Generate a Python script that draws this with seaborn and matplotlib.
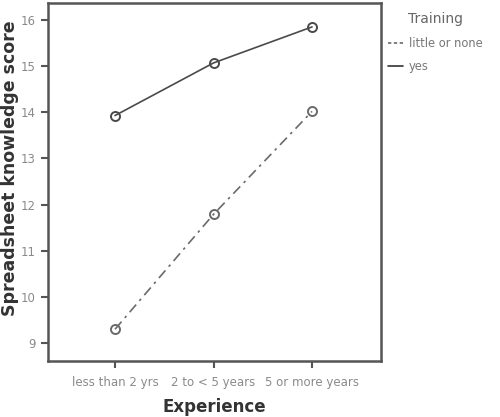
import matplotlib
matplotlib.use("Agg")
import matplotlib.pyplot as plt
import seaborn as sns
import pandas as pd
from matplotlib.lines import Line2D

experience = ["less than 2 yrs", "2 to < 5 years", "5 or more years"]
little_or_none = [9.30, 11.79, 14.02]
yes = [13.93, 15.07, 15.85]
training_levels = ["little or none", "yes"]
y_ticks = [9, 10, 11, 12, 13, 14, 15, 16]

df = pd.DataFrame({
    "Experience": experience * 2,
    "Score": little_or_none + yes,
    "Training": [training_levels[0]] * 3 + [training_levels[1]] * 3,
})

sns.set_style("white")
fig = plt.figure(figsize=(5, 4.17), dpi=100)
ax = fig.add_axes([0.096, 0.134, 0.666, 0.859])

line_colors = {"little or none": "#6a6a6a", "yes": "#4a4a4a"}
sns.lineplot(data=df, x="Experience", y="Score", hue="Training", style="Training",
             palette=line_colors, dashes={"little or none": (6, 3, 1.5, 3), "yes": ""},
             markers={"little or none": "o", "yes": "o"}, markersize=6.5,
             markerfacecolor="none", markeredgewidth=1.4, linewidth=1.2,
             sort=False, legend=False, ax=ax)
for ln in ax.get_lines():
    ln.set_markeredgecolor(ln.get_color())
    ln.set_markerfacecolor("none")

ax.set_xlim(-0.68, 2.70)
ax.set_ylim(8.61, 16.37)
ax.set_yticks(y_ticks)
ax.set_yticklabels([str(t) for t in y_ticks])
ax.tick_params(axis="both", length=5, width=1.5, color="#555555", labelcolor="#8a8a8a",
               labelsize=8.5, left=True, bottom=True)
ax.tick_params(axis="x", pad=6)
ax.tick_params(axis="y", pad=4)
for sp in ax.spines.values():
    sp.set_color("#555555")
    sp.set_linewidth(1.8)

ax.set_xlabel("Experience", fontsize=12, fontweight="bold", color="#333333", labelpad=6)
ax.set_ylabel("Spreadsheet knowledge score", fontsize=12.5, fontweight="bold", color="#333333")
ax.yaxis.set_label_coords(-0.088, 0.54)

handles = [Line2D([0], [0], color="#6a6a6a", lw=1.2, ls=(0, (2, 1.5))),
           Line2D([0], [0], color="#333333", lw=1.2)]
leg = fig.legend(handles, training_levels, title="Training", loc="upper left",
                 bbox_to_anchor=(0.755, 0.995), frameon=False, fontsize=8.3,
                 handlelength=1.3, handletextpad=0.5, labelspacing=0.9)
leg.get_title().set_fontsize(10)
leg.get_title().set_color("#666666")
for t in leg.get_texts():
    t.set_color("#777777")

fig.savefig("out.png", dpi=100)
